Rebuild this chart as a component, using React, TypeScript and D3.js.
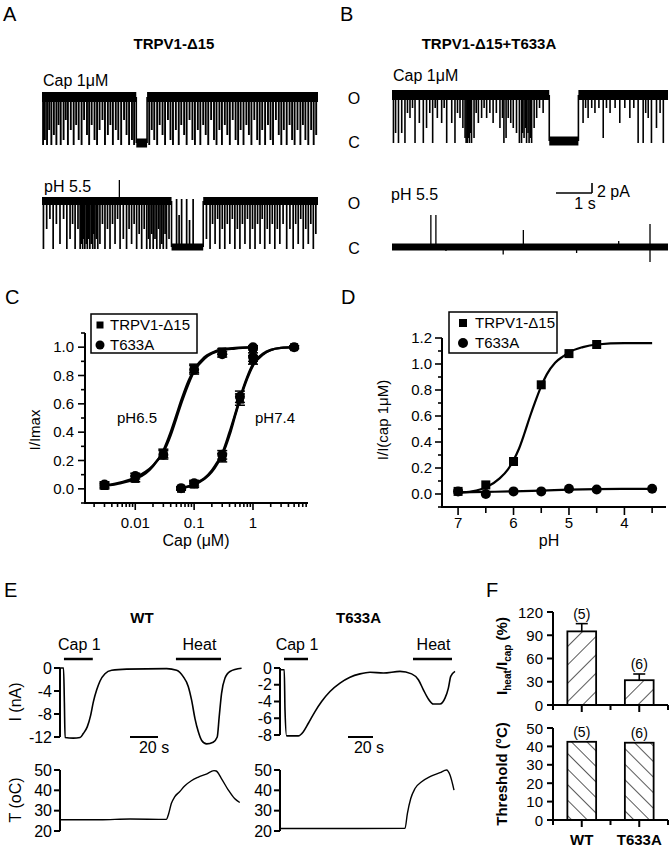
import React from 'react'
import * as d3 from 'd3'

const FONT = '"Liberation Sans", Arial, Helvetica, sans-serif'

// ── A / B: single-channel records. time in s, current in pA above the closed level ──
const REC_SECONDS = 7.67
const UNIT_PA = 9.2

// brief closures: [time, lowest current reached]
const A_CAP_FLICKERS: [number, number][] = [
  [0.03, 0], [0.08, 1], [0.14, 0], [0.2, 3], [0.26, 0], [0.33, 2], [0.4, 0], [0.46, 4], [0.52, 0], [0.6, 1],
  [0.66, 5], [0.72, 0], [0.8, 3], [0.88, 0], [0.95, 4], [1.02, 1], [1.1, 0], [1.17, 5], [1.25, 2], [1.31, 0],
  [1.38, 4], [1.46, 1], [1.53, 0], [1.6, 3], [1.68, 5], [1.75, 0], [1.83, 2], [1.9, 4], [1.97, 0], [2.05, 3],
  [2.12, 1], [2.2, 0], [2.28, 5], [2.35, 2], [2.42, 0], [2.5, 1], [2.56, 0],
  [2.98, 0], [3.05, 3], [3.12, 1], [3.2, 0], [3.27, 4], [3.35, 2], [3.42, 0], [3.5, 5], [3.57, 1], [3.64, 0],
  [3.72, 3], [3.8, 0], [3.87, 4], [3.95, 2], [4.02, 0], [4.1, 5], [4.18, 1], [4.25, 0], [4.33, 3], [4.4, 0],
  [4.48, 4], [4.55, 2], [4.62, 0], [4.7, 5], [4.78, 1], [4.85, 0], [4.93, 3], [5.0, 0], [5.08, 4], [5.15, 2],
  [5.22, 0], [5.3, 5], [5.38, 1], [5.45, 0], [5.52, 3], [5.6, 0], [5.68, 4], [5.75, 2], [5.82, 0], [5.9, 5],
  [5.98, 1], [6.05, 0], [6.12, 3], [6.2, 0], [6.28, 4], [6.35, 1], [6.42, 0], [6.5, 5], [6.58, 2], [6.65, 0],
  [6.72, 3], [6.8, 0], [6.88, 4], [6.95, 1], [7.02, 0], [7.1, 3], [7.18, 0], [7.25, 4], [7.32, 1], [7.4, 0],
  [7.48, 3], [7.55, 0], [7.62, 2],
]
const A_CAP_SHUT: [number, number][] = [[2.62, 2.92]]

const A_PH_FLICKERS: [number, number][] = [
  [0.04, 0], [0.13, 4], [0.22, 6], [0.31, 0], [0.4, 5], [0.5, 1], [0.6, 6], [0.69, 0], [0.78, 2], [0.85, 5],
  [0.92, 0], [1.0, 4], [1.06, 0], [1.1, 1], [1.13, 0], [1.16, 2], [1.19, 0], [1.23, 1], [1.26, 0], [1.3, 2],
  [1.33, 0], [1.37, 1], [1.41, 0], [1.44, 3], [1.47, 0], [1.51, 2], [1.55, 0], [1.61, 1], [1.68, 5], [1.75, 0],
  [1.82, 4], [1.89, 0], [1.96, 5], [2.03, 1], [2.1, 6], [2.17, 0], [2.26, 2], [2.35, 0], [2.42, 4], [2.49, 1],
  [2.56, 5], [2.63, 0], [2.7, 3], [2.77, 0], [2.84, 4], [2.91, 0], [2.96, 2], [3.0, 0], [3.05, 3], [3.09, 0],
  [3.14, 2], [3.19, 0], [3.24, 4], [3.28, 0], [3.33, 1], [3.37, 0], [3.42, 3], [3.46, 0], [3.53, 2],
  [4.57, 2], [4.67, 0], [4.74, 5], [4.81, 1], [4.88, 6], [4.94, 0], [5.01, 4], [5.08, 0], [5.15, 5], [5.22, 1],
  [5.29, 6], [5.36, 0], [5.43, 4], [5.5, 0], [5.57, 5], [5.64, 1], [5.71, 6], [5.78, 0], [5.85, 4], [5.92, 0],
  [5.99, 5], [6.06, 1], [6.12, 6], [6.19, 0], [6.26, 4], [6.33, 1], [6.4, 5], [6.47, 0], [6.54, 4], [6.61, 1],
  [6.7, 5], [6.8, 0], [6.89, 4], [6.98, 0], [7.05, 5], [7.12, 1], [7.19, 6], [7.26, 0], [7.33, 4], [7.4, 1],
  [7.47, 5], [7.54, 0], [7.61, 3],
]
const A_PH_SHUT: [number, number][] = [[3.6, 4.48]]
const A_PH_REOPEN: [number, number][] = [[3.74, 9.2], [3.81, 6], [3.88, 9.2], [4.02, 9.2], [4.1, 5], [4.2, 9.2]]
const A_PH_SPIKES: [number, number][] = [[2.15, 13.4]]

const B_CAP_FLICKERS: [number, number][] = [
  [0.04, 0], [0.1, 2], [0.18, 0], [0.27, 2], [0.36, 0], [0.43, 6], [0.5, 5], [0.57, 7], [0.64, 0], [0.76, 4],
  [0.87, 0], [0.96, 3], [1.05, 6], [1.13, 0], [1.2, 7], [1.26, 5], [1.38, 4], [1.45, 7], [1.52, 0], [1.66, 4],
  [1.75, 0], [1.82, 6], [1.89, 5], [1.97, 3], [2.03, 1], [2.06, 0], [2.09, 0], [2.12, 1], [2.15, 0], [2.18, 2],
  [2.21, 0], [2.28, 1], [2.34, 6], [2.4, 4], [2.49, 5], [2.56, 7], [2.63, 5], [2.72, 6], [2.81, 4], [2.9, 6],
  [3.0, 3], [3.07, 5], [3.11, 0], [3.17, 1], [3.23, 5], [3.3, 4], [3.37, 3], [3.46, 2], [3.54, 0], [3.6, 0],
  [3.63, 2], [3.67, 1], [3.71, 3], [3.74, 0], [3.78, 2], [3.81, 0], [3.85, 1], [3.88, 0], [3.95, 3], [4.02, 5],
  [4.1, 7], [4.2, 6],
  [5.31, 4], [5.38, 7], [5.45, 5], [5.55, 7], [5.64, 6], [5.75, 7], [5.87, 1], [5.96, 7], [6.06, 6], [6.2, 7],
  [6.33, 4], [6.47, 7], [6.61, 5], [6.72, 7], [6.84, 0], [6.98, 0], [7.05, 6], [7.12, 5], [7.21, 0], [7.35, 3],
  [7.45, 6], [7.54, 0],
]
const B_CAP_SHUT: [number, number][] = [[4.37, 5.18]]
const B_PH_SPIKES: [number, number][] = [[1.08, 6.4], [1.22, 6.4], [3.65, 3.4], [7.17, 4.6], [7.17, -3], [3.09, -1.5], [5.13, -1.2], [1.5, -0.8], [6.3, 1.2]]

// ── C: capsaicin dose-response (I/Imax) ──
const CAP_PH65 = [0.003, 0.01, 0.03, 0.1, 0.3, 1]
const C_WT_65 = [0.02, 0.07, 0.25, 0.85, 0.97, 0.99]
const C_WT_65_ERR = [0.02, 0.02, 0.03, 0.03, 0.02, 0.01]
const C_TA_65 = [0.03, 0.09, 0.24, 0.84, 0.95, 1.0]
const C_TA_65_ERR = [0.02, 0.02, 0.03, 0.03, 0.02, 0.01]
const CAP_PH74 = [0.06, 0.1, 0.3, 0.6, 1, 5]
const C_WT_74 = [0.0, 0.03, 0.22, 0.63, 0.91, 1.0]
const C_WT_74_ERR = [0.01, 0.02, 0.03, 0.04, 0.03, 0.01]
const C_TA_74 = [0.005, 0.04, 0.24, 0.65, 0.93, 1.0]
const C_TA_74_ERR = [0.01, 0.02, 0.03, 0.04, 0.03, 0.01]
// fitted curves
const FIT_CAP_65 = [0.0025, 0.005, 0.01, 0.015, 0.02, 0.03, 0.04, 0.05, 0.06, 0.08, 0.1, 0.15, 0.2, 0.3, 0.5, 1]
const FIT_WT_65 = [0.015, 0.035, 0.07, 0.11, 0.16, 0.27, 0.4, 0.52, 0.62, 0.76, 0.84, 0.93, 0.96, 0.985, 0.995, 1.0]
const FIT_TA_65 = [0.02, 0.04, 0.08, 0.12, 0.165, 0.26, 0.38, 0.5, 0.6, 0.74, 0.83, 0.92, 0.955, 0.98, 0.99, 1.0]
const FIT_CAP_74 = [0.06, 0.08, 0.1, 0.15, 0.2, 0.25, 0.3, 0.4, 0.5, 0.6, 0.8, 1, 1.5, 2, 3, 5]
const FIT_WT_74 = [0.005, 0.015, 0.03, 0.07, 0.12, 0.18, 0.24, 0.38, 0.52, 0.63, 0.78, 0.87, 0.95, 0.98, 0.995, 1.0]
const FIT_TA_74 = [0.007, 0.018, 0.035, 0.075, 0.13, 0.19, 0.25, 0.4, 0.53, 0.64, 0.79, 0.88, 0.955, 0.98, 0.995, 1.0]

// ── D: proton activation, I / I(cap 1 µM) ──
const PH_WT = [7, 6.5, 6, 5.5, 5, 4.5]
const D_WT = [0.02, 0.07, 0.25, 0.84, 1.08, 1.15]
const PH_TA = [7, 6.5, 6, 5.5, 5, 4.5, 3.5]
const D_TA = [0.02, 0.0, 0.02, 0.02, 0.04, 0.035, 0.04]
const FIT_PH_WT = [7, 6.75, 6.5, 6.25, 6.1, 6, 5.9, 5.8, 5.7, 5.6, 5.5, 5.4, 5.25, 5.1, 5, 4.75, 4.5, 4, 3.5]
const FIT_D_WT = [0.01, 0.02, 0.05, 0.12, 0.19, 0.26, 0.35, 0.47, 0.6, 0.72, 0.83, 0.92, 1.01, 1.06, 1.09, 1.13, 1.15, 1.16, 1.16]
const FIT_PH_TA = [7, 6.5, 6, 5.5, 5, 4.5, 4, 3.5]
const FIT_D_TA = [0.012, 0.016, 0.02, 0.026, 0.033, 0.037, 0.039, 0.04]

// ── E: whole-cell current and bath temperature (time in s) ──
const WT_T_I = [0, 1.1, 1.7, 2.2, 8, 12.9, 15.2, 18.1, 20.5, 22.4, 24.8, 27.1, 30.7, 35.5, 46.2, 74.8, 81.9, 86.6, 90.2, 92.6, 95, 97.4, 99.8, 103.3, 108, 110.9, 112.3, 114, 116.4, 120, 128.3]
const WT_I = [0, 0, -6, -12.1, -12.2, -12.1, -11.4, -10.2, -8.2, -5.9, -3.8, -2.3, -1.0, -0.4, -0.2, -0.1, -0.4, -1.5, -3.2, -5.6, -8.8, -11.1, -12.6, -13.2, -12.9, -12.0, -8.5, -4.4, -1.8, -0.6, -0.05]
const WT_T_TEMP = [0, 27.1, 48.6, 74.5, 76.2, 78.1, 80.5, 84, 87.6, 92.4, 97.1, 103.1, 108.6, 110.2, 113.8, 118.6, 123.3, 127]
const WT_TEMP = [25.5, 25.5, 25.9, 25.7, 28.5, 33.5, 36.8, 39.3, 42.1, 44.7, 46.4, 48, 49.7, 49.5, 45.9, 40.4, 36, 34]
const TA_T_I = [0, 1.8, 2.4, 3.7, 13, 17.1, 21.1, 26.4, 31.7, 38.4, 46.4, 54.4, 62.4, 70.4, 81.1, 94.4, 103.7, 109.1, 113.1, 117.1, 121.1, 126.4, 130.4, 133.1, 135, 138.4]
const TA_I = [-0.2, -0.2, -5, -8.1, -8.1, -7.6, -6.6, -5.2, -4.0, -2.8, -1.8, -1.1, -0.7, -0.5, -0.6, -0.4, -0.7, -1.4, -2.6, -3.7, -4.3, -4.3, -3.6, -2.4, -1.0, -0.4]
const TA_T_TEMP = [0, 60, 98.4, 100.3, 103, 106.4, 111.7, 118.4, 126.4, 131.7, 134.4, 137.6]
const TA_TEMP = [21.2, 21.2, 21.3, 28.6, 36, 40.9, 44.2, 46.7, 48.7, 50, 47.5, 40.1]
const WT_CAP_ON = [1.4, 22], WT_HEAT_ON = [81.4, 113.6], WT_SCALE = [48.6, 68.6]
const TA_CAP_ON = [1.6, 20.8], TA_HEAT_ON = [104.8, 136], TA_SCALE = [52.8, 72.8]
const WT_I_TICKS = [0, -4, -8, -12]
const TA_I_TICKS = [0, -2, -4, -6, -8]
const TEMP_TICKS = [20, 30, 40, 50]

// ── F: summary bars ──
const F_GROUPS = ['WT', 'T633A']
const F_RATIO = [95, 32]
const F_RATIO_ERR = [10, 8]
const F_THRESH = [42.5, 42]
const F_N = ['(5)', '(6)']
const F_RATIO_TICKS = [0, 30, 60, 90, 120]
const F_THRESH_TICKS = [0, 10, 20, 30, 40, 50]

const txt = (size: number, weight: any = 'normal') => ({ fontFamily: FONT, fontSize: size, fontWeight: weight, fill: '#000' })

function Record({ left, closedY, flickers = [], shut = [], reopen = [], spikes = [], startsOpen = true, band = 8, lw = 1.7 }: any) {
  const x = d3.scaleLinear().domain([0, REC_SECONDS]).range([left, left + 276])
  const y = d3.scaleLinear().domain([0, UNIT_PA]).range([closedY, closedY - 46])
  const segs: [number, number, number][] = []
  if (startsOpen) {
    let t0 = 0
    shut.forEach(([a, b]: number[]) => { segs.push([t0, a, UNIT_PA]); segs.push([a, b, 0]); t0 = b })
    segs.push([t0, REC_SECONDS, UNIT_PA])
  } else segs.push([0, REC_SECONDS, 0])
  const base = startsOpen ? UNIT_PA : 0
  return (
    <g stroke="#000">
      {segs.map(([a, b, lv], i) => (
        <line key={'b' + i} x1={x(a)} x2={x(b)} y1={y(lv)} y2={y(lv)} strokeWidth={lv ? band : band - 1} />
      ))}
      {shut.map(([a, b]: number[], i: number) => (
        <g key={'s' + i} strokeWidth={1.6}>
          <line x1={x(a)} x2={x(a)} y1={y(UNIT_PA)} y2={y(0)} />
          <line x1={x(b)} x2={x(b)} y1={y(UNIT_PA)} y2={y(0)} />
        </g>
      ))}
      {flickers.map(([t, lv]: number[], i: number) => (
        <line key={'f' + i} x1={x(t)} x2={x(t)} y1={y(UNIT_PA)} y2={y(lv) + 2} strokeWidth={lw} />
      ))}
      {reopen.map(([t, lv]: number[], i: number) => (
        <line key={'r' + i} x1={x(t)} x2={x(t)} y1={y(0)} y2={y(lv) - 2} strokeWidth={lw} />
      ))}
      {spikes.map(([t, lv]: number[], i: number) => (
        <line key={'p' + i} x1={x(t)} x2={x(t)} y1={y(base)} y2={y(lv)} strokeWidth={1.3} />
      ))}
    </g>
  )
}

function Marker({ kind, cx, cy, s = 8 }: any) {
  return kind === 'sq'
    ? <rect x={cx - s / 2} y={cy - s / 2} width={s} height={s} fill="#000" />
    : <circle cx={cx} cy={cy} r={s / 2 + 0.5} fill="#000" />
}

function PanelC() {
  const x = d3.scaleLog().domain([0.0014, 8.6]).range([85, 308])
  const y = d3.scaleLinear().domain([-0.1, 1.1]).range([503, 333])
  const line = (xs: number[], ys: number[]) =>
    d3.line<number>().x((_, i) => x(xs[i])).y(d => y(d)).curve(d3.curveMonotoneX)(ys) as string
  const xt = x.ticks()
  const yt = d3.range(-1, 12).map(i => i / 10)
  const pts = (xs: number[], ys: number[], err: number[], kind: string, k: string) => xs.map((c, i) => (
    <g key={k + i}>
      <line x1={x(c)} x2={x(c)} y1={y(ys[i] - err[i])} y2={y(ys[i] + err[i])} stroke="#000" strokeWidth={1.5} />
      <line x1={x(c) - 5} x2={x(c) + 5} y1={y(ys[i] + err[i])} y2={y(ys[i] + err[i])} stroke="#000" strokeWidth={1.5} />
      <line x1={x(c) - 5} x2={x(c) + 5} y1={y(ys[i] - err[i])} y2={y(ys[i] - err[i])} stroke="#000" strokeWidth={1.5} />
      <Marker kind={kind} cx={x(c)} cy={y(ys[i])} s={kind === 'sq' ? 8 : 9} />
    </g>
  ))
  return (
    <g>
      <line x1={85} x2={85} y1={333} y2={503} stroke="#000" strokeWidth={2} />
      <line x1={84} x2={308} y1={503} y2={503} stroke="#000" strokeWidth={2} />
      {yt.map(v => {
        const major = Math.abs(Math.round(v * 10) % 2) === 0
        return (
          <g key={'y' + v}>
            <line x1={85} x2={major ? 78 : 81} y1={y(v)} y2={y(v)} stroke="#000" strokeWidth={1.6} />
            {major && v >= 0 && v <= 1 && <text x={74} y={y(v) + 5} textAnchor="end" style={txt(15)}>{v.toFixed(1)}</text>}
          </g>
        )
      })}
      {xt.map((v, i) => {
        const major = Math.abs(Math.log10(v) - Math.round(Math.log10(v))) < 1e-6
        return (
          <g key={'x' + i}>
            <line x1={x(v)} x2={x(v)} y1={503} y2={major ? 510 : 507} stroke="#000" strokeWidth={1.6} />
            {major && <text x={x(v)} y={528} textAnchor="middle" style={txt(15)}>{String(v)}</text>}
          </g>
        )
      })}
      <path d={line(FIT_CAP_65, FIT_WT_65)} fill="none" stroke="#000" strokeWidth={2.4} />
      <path d={line(FIT_CAP_65, FIT_TA_65)} fill="none" stroke="#000" strokeWidth={2.4} />
      <path d={line(FIT_CAP_74, FIT_WT_74)} fill="none" stroke="#000" strokeWidth={2.4} />
      <path d={line(FIT_CAP_74, FIT_TA_74)} fill="none" stroke="#000" strokeWidth={2.4} />
      {pts(CAP_PH65, C_WT_65, C_WT_65_ERR, 'sq', 'a')}
      {pts(CAP_PH65, C_TA_65, C_TA_65_ERR, 'ci', 'b')}
      {pts(CAP_PH74, C_WT_74, C_WT_74_ERR, 'sq', 'c')}
      {pts(CAP_PH74, C_TA_74, C_TA_74_ERR, 'ci', 'd')}
      <text x={137} y={423} textAnchor="middle" style={txt(15)}>pH6.5</text>
      <text x={275} y={423} textAnchor="middle" style={txt(15)}>pH7.4</text>
      <rect x={91} y={314} width={106} height={39} fill="#fff" stroke="#000" strokeWidth={1.5} />
      <Marker kind="sq" cx={100} cy={325} s={7} />
      <text x={110} y={330} style={txt(15)}>TRPV1-Δ15</text>
      <Marker kind="ci" cx={100} cy={345} s={8} />
      <text x={110} y={350} style={txt(15)}>T633A</text>
      <text transform="translate(40,430) rotate(-90)" textAnchor="middle" style={txt(15)}>I/Imax</text>
      <text x={196} y={546} textAnchor="middle" style={txt(16)}>Cap (μM)</text>
    </g>
  )
}

function PanelD() {
  const x = d3.scaleLinear().domain([7.29, 3.25]).range([442, 666])
  const y = d3.scaleLinear().domain([-0.1, 1.2]).range([507, 338])
  const line = (xs: number[], ys: number[]) =>
    d3.line<number>().x((_, i) => x(xs[i])).y(d => y(d)).curve(d3.curveMonotoneX)(ys) as string
  const yt = d3.range(-1, 13).map(i => i / 10)
  const xt = d3.range(0, 8).map(i => 7 - i * 0.5)
  return (
    <g>
      <line x1={442} x2={442} y1={338} y2={507} stroke="#000" strokeWidth={2} />
      <line x1={441} x2={666} y1={507} y2={507} stroke="#000" strokeWidth={2} />
      {yt.map(v => {
        const major = Math.abs(Math.round(v * 10) % 2) === 0
        return (
          <g key={'y' + v}>
            <line x1={442} x2={major ? 435 : 438} y1={y(v)} y2={y(v)} stroke="#000" strokeWidth={1.6} />
            {major && v >= 0 && <text x={432} y={y(v) + 5} textAnchor="end" style={txt(15)}>{v.toFixed(1)}</text>}
          </g>
        )
      })}
      {xt.map(v => {
        const major = Number.isInteger(v)
        return (
          <g key={'x' + v}>
            <line x1={x(v)} x2={x(v)} y1={507} y2={major ? 515 : 513} stroke="#000" strokeWidth={1.6} />
            {major && <text x={x(v)} y={528} textAnchor="middle" style={txt(15)}>{v}</text>}
          </g>
        )
      })}
      <path d={line(FIT_PH_WT, FIT_D_WT)} fill="none" stroke="#000" strokeWidth={2.2} />
      <path d={line(FIT_PH_TA, FIT_D_TA)} fill="none" stroke="#000" strokeWidth={2.2} />
      {PH_WT.map((p, i) => <Marker key={'w' + i} kind="sq" cx={x(p)} cy={y(D_WT[i])} s={9} />)}
      {PH_TA.map((p, i) => <Marker key={'t' + i} kind="ci" cx={x(p)} cy={y(D_TA[i])} s={9} />)}
      <rect x={449} y={312} width={108} height={41} fill="#fff" stroke="#000" strokeWidth={1.5} />
      <Marker kind="sq" cx={463} cy={323} s={8} />
      <text x={475} y={328} style={txt(15)}>TRPV1-Δ15</text>
      <Marker kind="ci" cx={463} cy={343} s={9} />
      <text x={475} y={348} style={txt(15)}>T633A</text>
      <text transform="translate(388,420) rotate(-90)" textAnchor="middle" style={txt(15)}>I/I(cap 1μM)</text>
      <text x={549} y={546} textAnchor="middle" style={txt(16)}>pH</text>
    </g>
  )
}

function Recording({ axisX, tMax, left, right, tI, I, iTicks, iMin, iBottom, tT, T, cap, heat, scale, title, showY }: any) {
  const x = d3.scaleLinear().domain([0, tMax]).range([left, right])
  const yI = d3.scaleLinear().domain([iMin, 0]).range([iBottom, 668])
  const yT = d3.scaleLinear().domain([20, 50]).range([831, 770])
  const ln = (ts: number[], vs: number[], ys: any) =>
    d3.line<number>().x((_, i) => x(ts[i])).y(d => ys(d)).curve(d3.curveMonotoneX)(vs) as string
  const titleX = (left + right) / 2 - 10
  return (
    <g>
      <text x={titleX} y={623} textAnchor="middle" style={txt(15, 'bold')}>{title}</text>
      <text x={(x(cap[0]) + x(cap[1])) / 2 + 1} y={650} textAnchor="middle" style={txt(16)}>Cap 1</text>
      <text x={(x(heat[0]) + x(heat[1])) / 2 + 1} y={650} textAnchor="middle" style={txt(16)}>Heat</text>
      <line x1={x(cap[0])} x2={x(cap[1])} y1={659} y2={659} stroke="#000" strokeWidth={2.5} />
      <line x1={x(heat[0])} x2={x(heat[1])} y1={659} y2={659} stroke="#000" strokeWidth={2.5} />
      <line x1={axisX} x2={axisX} y1={yI(0)} y2={yI(iMin)} stroke="#000" strokeWidth={2} />
      {iTicks.map((v: number) => (
        <g key={'i' + v}>
          <line x1={axisX - 6} x2={axisX} y1={yI(v)} y2={yI(v)} stroke="#000" strokeWidth={2} />
          <text x={axisX - 8} y={yI(v) + 5.5} textAnchor="end" style={txt(16)}>{v}</text>
        </g>
      ))}
      <line x1={axisX} x2={axisX} y1={yT(50)} y2={yT(20)} stroke="#000" strokeWidth={2} />
      {TEMP_TICKS.map(v => (
        <g key={'t' + v}>
          <line x1={axisX - 6} x2={axisX} y1={yT(v)} y2={yT(v)} stroke="#000" strokeWidth={2} />
          <text x={axisX - 8} y={yT(v) + 5.5} textAnchor="end" style={txt(16)}>{v}</text>
        </g>
      ))}
      <line x1={axisX} x2={left} y1={yI(I[0])} y2={yI(I[0])} stroke="#000" strokeWidth={1.6} />
      <path d={ln(tI, I, yI)} fill="none" stroke="#000" strokeWidth={1.6} />
      <line x1={axisX} x2={left} y1={yT(T[0])} y2={yT(T[0])} stroke="#000" strokeWidth={1.4} />
      <path d={ln(tT, T, yT)} fill="none" stroke="#000" strokeWidth={1.4} />
      <line x1={x(scale[0])} x2={x(scale[1])} y1={737} y2={737} stroke="#000" strokeWidth={2} />
      <text x={x(scale[1]) - 4} y={753} textAnchor="middle" style={txt(16)}>20 s</text>
      {showY && <>
        <text transform="translate(21,702) rotate(-90)" textAnchor="middle" style={txt(16)}>I (nA)</text>
        <text transform="translate(21,800) rotate(-90)" textAnchor="middle" style={txt(16)}>T (oC)</text>
      </>}
    </g>
  )
}

function PanelF() {
  const x = d3.scaleBand().domain(F_GROUPS).range([553, 668]).paddingInner(0.5).paddingOuter(0.25)
  const yR = d3.scaleLinear().domain([0, 120]).range([705, 612])
  const yT = d3.scaleLinear().domain([0, 50]).range([820, 728])
  const bw = x.bandwidth()
  const xAxis = (yy: number, k: string) => (
    <g key={k}>
      <line x1={552} x2={668} y1={yy} y2={yy} stroke="#000" strokeWidth={2} />
      {F_GROUPS.map(g => <line key={g} x1={x(g)! + bw / 2} x2={x(g)! + bw / 2} y1={yy} y2={yy + 7} stroke="#000" strokeWidth={2} />)}
      {[553, 553 + x.step(), 668].map((v, i) => <line key={i} x1={v} x2={v} y1={yy} y2={yy + 5} stroke="#000" strokeWidth={2} />)}
    </g>
  )
  return (
    <g>
      <defs>
        <pattern id="hatchUp" width="13" height="13" patternUnits="userSpaceOnUse" patternTransform="rotate(45)">
          <line x1="0" y1="0" x2="0" y2="13" stroke="#000" strokeWidth="1.3" />
        </pattern>
        <pattern id="hatchDown" width="11" height="11" patternUnits="userSpaceOnUse" patternTransform="rotate(-45)">
          <line x1="0" y1="0" x2="0" y2="11" stroke="#000" strokeWidth="1.3" />
        </pattern>
      </defs>
      <line x1={553} x2={553} y1={612} y2={705} stroke="#000" strokeWidth={2} />
      {F_RATIO_TICKS.map(v => (
        <g key={'r' + v}>
          <line x1={547} x2={553} y1={yR(v)} y2={yR(v)} stroke="#000" strokeWidth={2} />
          <text x={543} y={yR(v) + 5.5} textAnchor="end" style={txt(15)}>{v}</text>
        </g>
      ))}
      {F_GROUPS.map((g, i) => (
        <g key={'rb' + g}>
          <line x1={x(g)! + bw / 2} x2={x(g)! + bw / 2} y1={yR(F_RATIO[i])} y2={yR(F_RATIO[i] + F_RATIO_ERR[i])} stroke="#000" strokeWidth={1.6} />
          <line x1={x(g)! + bw / 2 - 6} x2={x(g)! + bw / 2 + 6} y1={yR(F_RATIO[i] + F_RATIO_ERR[i])} y2={yR(F_RATIO[i] + F_RATIO_ERR[i])} stroke="#000" strokeWidth={1.6} />
          <rect x={x(g)} y={yR(F_RATIO[i])} width={bw} height={yR(0) - yR(F_RATIO[i])} fill="url(#hatchUp)" stroke="#000" strokeWidth={1.8} />
          <text x={x(g)! + bw / 2} y={yR(F_RATIO[i] + F_RATIO_ERR[i]) - 5} textAnchor="middle" style={txt(14)}>{F_N[i]}</text>
        </g>
      ))}
      {xAxis(705, 'ax1')}
      <line x1={553} x2={553} y1={728} y2={820} stroke="#000" strokeWidth={2} />
      {F_THRESH_TICKS.map(v => (
        <g key={'t' + v}>
          <line x1={547} x2={553} y1={yT(v)} y2={yT(v)} stroke="#000" strokeWidth={2} />
          <text x={543} y={yT(v) + 5.5} textAnchor="end" style={txt(15)}>{v}</text>
        </g>
      ))}
      {F_GROUPS.map((g, i) => (
        <g key={'tb' + g}>
          <rect x={x(g)} y={yT(F_THRESH[i])} width={bw} height={yT(0) - yT(F_THRESH[i])} fill="url(#hatchDown)" stroke="#000" strokeWidth={1.8} />
          <text x={x(g)! + bw / 2} y={yT(F_THRESH[i]) - 5} textAnchor="middle" style={txt(14)}>{F_N[i]}</text>
        </g>
      ))}
      {xAxis(820, 'ax2')}
      {F_GROUPS.map(g => (
        <text key={'l' + g} x={x(g)! + bw / 2} y={845} textAnchor="middle" style={txt(15, 'bold')}>{g}</text>
      ))}
      <text transform="translate(507,656) rotate(-90)" textAnchor="middle" style={txt(15, 'bold')}>
        I<tspan dy={4} fontSize={10}>heat</tspan><tspan dy={-4}>/I</tspan><tspan dy={4} fontSize={10}>cap</tspan><tspan dy={-4}> (%)</tspan>
      </text>
      <text transform="translate(507,774) rotate(-90)" textAnchor="middle" style={txt(15, 'bold')}>Threshold (°C)</text>
    </g>
  )
}

export default function App() {
  return (
    <svg width={672} height={853} viewBox="0 0 672 853" style={{ position: 'absolute', left: 0, top: 0, background: '#fff' }}>
      <rect width={672} height={853} fill="#fff" />
      {/* panel letters */}
      <text x={3} y={21} style={txt(20)}>A</text>
      <text x={340} y={21} style={txt(20)}>B</text>
      <text x={5} y={304} style={txt(20)}>C</text>
      <text x={341} y={304} style={txt(20)}>D</text>
      <text x={4} y={597} style={txt(20)}>E</text>
      <text x={486} y={597} style={txt(20)}>F</text>

      {/* A */}
      <text x={174} y={49} textAnchor="middle" style={txt(15, 'bold')}>TRPV1-Δ15</text>
      <text x={43} y={86} style={txt(16)}>Cap 1μM</text>
      <Record left={42} closedY={143} flickers={A_CAP_FLICKERS} shut={A_CAP_SHUT} band={10} lw={1.9} />
      <text x={44} y={192} style={txt(16)}>pH 5.5</text>
      <Record left={42} closedY={247} flickers={A_PH_FLICKERS} shut={A_PH_SHUT} reopen={A_PH_REOPEN} spikes={A_PH_SPIKES} band={8} lw={1.7} />

      {/* B */}
      <text x={489} y={49} textAnchor="middle" style={txt(15, 'bold')}>TRPV1-Δ15+T633A</text>
      <text x={393} y={81} style={txt(16)}>Cap 1μM</text>
      <text x={354} y={104} textAnchor="middle" style={txt(16)}>O</text>
      <text x={354} y={148} textAnchor="middle" style={txt(16)}>C</text>
      <Record left={392} closedY={141} flickers={B_CAP_FLICKERS} shut={B_CAP_SHUT} band={10} lw={1.6} />
      <text x={391} y={200} style={txt(16)}>pH 5.5</text>
      <text x={354} y={209} textAnchor="middle" style={txt(16)}>O</text>
      <text x={354} y={254} textAnchor="middle" style={txt(16)}>C</text>
      <Record left={392} closedY={247} spikes={B_PH_SPIKES} startsOpen={false} band={8} />
      <line x1={556} x2={592} y1={193} y2={193} stroke="#000" strokeWidth={1.6} />
      <line x1={592} x2={592} y1={183} y2={193} stroke="#000" strokeWidth={1.6} />
      <text x={597} y={197} style={txt(16)}>2 pA</text>
      <text x={585} y={209} textAnchor="middle" style={txt(16)}>1 s</text>

      <PanelC />
      <PanelD />

      {/* E */}
      <Recording axisX={60} tMax={128.6} left={62} right={242} tI={WT_T_I} I={WT_I} iTicks={WT_I_TICKS} iMin={-12} iBottom={737}
        tT={WT_T_TEMP} T={WT_TEMP} cap={WT_CAP_ON} heat={WT_HEAT_ON} scale={WT_SCALE} title="WT" showY />
      <Recording axisX={280} tMax={138.4} left={282} right={455} tI={TA_T_I} I={TA_I} iTicks={TA_I_TICKS} iMin={-8} iBottom={735}
        tT={TA_T_TEMP} T={TA_TEMP} cap={TA_CAP_ON} heat={TA_HEAT_ON} scale={TA_SCALE} title="T633A" />

      <PanelF />
    </svg>
  )
}
